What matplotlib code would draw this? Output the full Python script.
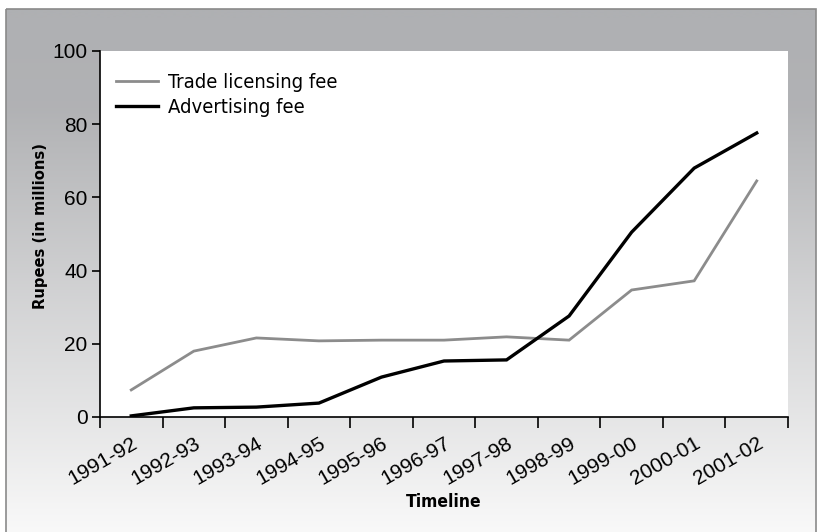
import numpy as np
import matplotlib
matplotlib.use("Agg")
import matplotlib.pyplot as plt
from matplotlib.patches import Rectangle
from matplotlib.ticker import FixedLocator, NullFormatter, FixedFormatter

categories = ["1991-92", "1992-93", "1993-94", "1994-95", "1995-96", "1996-97",
              "1997-98", "1998-99", "1999-00", "2000-01", "2001-02"]
trade_fee = [7.4, 18.0, 21.6, 20.8, 21.0, 21.0, 21.9, 21.0, 34.7, 37.2, 64.5]
advert_fee = [0.3, 2.5, 2.7, 3.8, 10.9, 15.3, 15.6, 27.6, 50.5, 68.0, 77.6]
yticks = [0, 20, 40, 60, 80, 100]

W, H = 817, 532
fig = plt.figure(figsize=(W / 100, H / 100), dpi=100)
fig.patch.set_facecolor("white")

bg = fig.add_axes([0, 0, 1, 1], zorder=-10)
bg.set_xlim(0, W)
bg.set_ylim(H, 0)
bg.axis("off")
ys = np.arange(H)
anchors_y = [9, 100, 200, 300, 430, 532]
anchors_v = [176, 178, 195, 212, 232, 249]
g = np.interp(ys, anchors_y, anchors_v)
tint = np.interp(ys, [9, 532], [3, 0])
img = np.zeros((H, 1, 3))
img[:, 0, 0] = (g - tint / 3) / 255
img[:, 0, 1] = g / 255
img[:, 0, 2] = (g + tint) / 255
img = np.clip(img, 0, 1)
bg.imshow(img, extent=[6, 816, 532, 9], aspect="auto", interpolation="bilinear")
bg.add_patch(Rectangle((6, 9), 810, 530, fill=False, edgecolor="#8a8a8a", lw=1.2))

left, right = 100 / W, 788 / W
bottom, top = (H - 417) / H, (H - 51) / H
ax = fig.add_axes([left, bottom, right - left, top - bottom])
ax.set_facecolor("white")

x = np.arange(len(categories))
ax.plot(x, trade_fee, color="#8c8c8c", lw=2.0, label="Trade licensing fee", solid_joinstyle="miter")
ax.plot(x, advert_fee, color="black", lw=2.4, label="Advertising fee", solid_joinstyle="miter")

ax.set_xlim(-0.5, len(categories) - 0.5)
ax.set_ylim(0, 100)
for s in ["top", "right"]:
    ax.spines[s].set_visible(False)
for s in ["left", "bottom"]:
    ax.spines[s].set_linewidth(1.2)

ax.xaxis.set_major_locator(FixedLocator(np.arange(-0.5, len(categories), 1.0)))
ax.xaxis.set_major_formatter(NullFormatter())
ax.xaxis.set_minor_locator(FixedLocator(x))
ax.xaxis.set_minor_formatter(FixedFormatter(categories))
ax.tick_params(axis="x", which="major", direction="out", length=8, width=1.2)
ax.tick_params(axis="x", which="minor", length=0, pad=12)
ax.set_yticks(yticks)
ax.tick_params(axis="y", direction="out", length=6, width=1.2, pad=3)

tick_font = ["Liberation Sans", "DejaVu Sans"]
for lab in ax.get_yticklabels():
    lab.set_fontfamily(tick_font)
    lab.set_fontsize(15)
for lab in ax.xaxis.get_minorticklabels():
    lab.set_fontfamily(tick_font)
    lab.set_fontsize(15)
    lab.set_rotation(30)
    lab.set_ha("right")
    lab.set_va("top")
    lab.set_rotation_mode("anchor")

cond = ["DejaVu Sans"]
ax.set_ylabel("Rupees (in millions)", fontfamily=cond, fontstretch="condensed",
              fontsize=11.8, fontweight="bold")
ax.yaxis.set_label_coords(-52 / (788 - 100), 1 - (226 - 51) / (417 - 51))
ax.set_xlabel("Timeline", fontfamily=cond, fontstretch="condensed",
              fontsize=12.5, fontweight="bold", labelpad=3)

leg = ax.legend(loc="upper left", frameon=False,
                prop={"family": cond, "stretch": "condensed", "size": 14.5},
                handlelength=2.1, handletextpad=0.5, borderaxespad=0.4, labelspacing=0.3,
                bbox_to_anchor=(0.0, 0.985))

fig.savefig("out.png", dpi=100, facecolor=fig.get_facecolor())
